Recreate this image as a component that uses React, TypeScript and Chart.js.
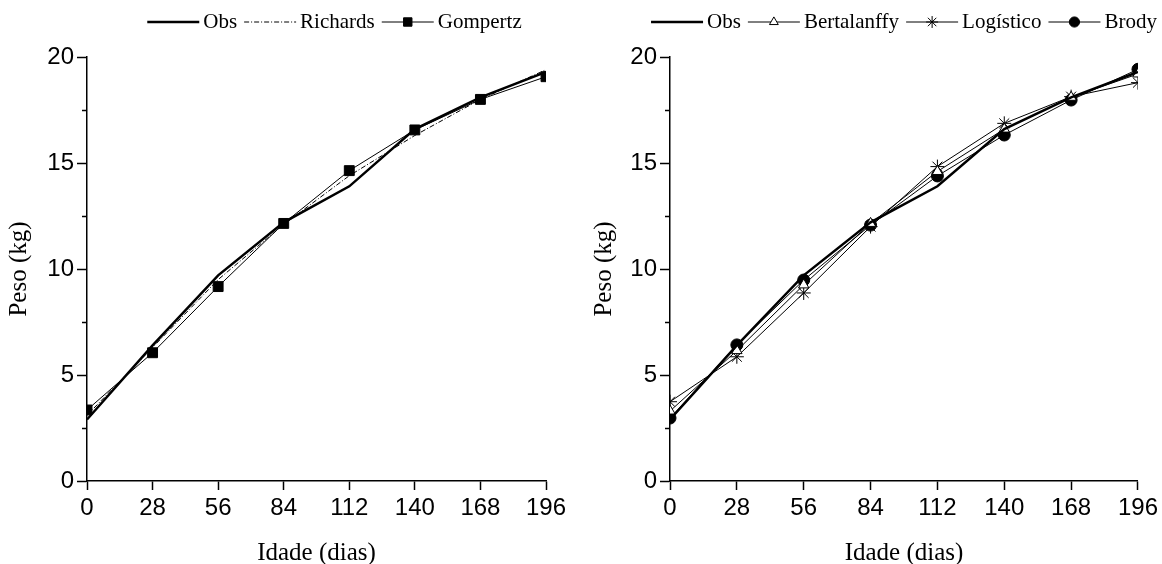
import React, { useEffect, useRef } from 'react';
import { Chart, registerables } from 'chart.js';
import { drawPoint } from 'chart.js/helpers';

Chart.register(...registerables);

// ---- data ----
const ages = [0, 28, 56, 84, 112, 140, 168, 196];
const obs = [2.9, 6.4, 9.7, 12.2, 13.9, 16.6, 18.1, 19.3];
const richards = [3.1, 6.3, 9.5, 12.1, 14.4, 16.3, 18.0, 19.4];
const gompertz = [3.35, 6.05, 9.17, 12.15, 14.64, 16.56, 18.0, 19.07];
const bertalanffy = [3.3, 6.15, 9.25, 12.15, 14.6, 16.6, 18.1, 19.2];
const logistico = [3.74, 5.86, 8.87, 12.0, 14.83, 16.87, 18.13, 18.79];
const brody = [2.97, 6.42, 9.48, 12.07, 14.39, 16.32, 17.97, 19.42];

const xTitle = 'Idade (dias)';
const yTitle = 'Peso (kg)';

const toXY = (vals: number[]) => vals.map((v, i) => ({ x: ages[i], y: v }));

const SANS = '"Liberation Sans", Arial, sans-serif';
const SERIF = '"Liberation Serif", "Times New Roman", serif';

const lineLegend = {
  id: 'lineLegend',
  afterDraw(chart: any, _args: any, opts: any) {
    const ctx = chart.ctx as CanvasRenderingContext2D;
    const ds = chart.data.datasets as any[];
    ctx.save();
    ctx.font = `${opts.fontSize}px ${SERIF}`;
    const L = opts.lineLength;
    const g1 = 4;
    const g2 = 7;
    const widths = ds.map((d) => ctx.measureText(d.label).width);
    const total = widths.reduce((a, w) => a + L + g1 + w + g2, 0) - g2;
    const ca = chart.chartArea;
    let x = (ca.left + ca.right) / 2 + opts.offsetX - total / 2;
    const y = opts.y;
    ds.forEach((d, i) => {
      ctx.strokeStyle = '#000';
      ctx.lineWidth = d.borderWidth;
      ctx.setLineDash(d.borderDash || []);
      ctx.beginPath();
      ctx.moveTo(x, y);
      ctx.lineTo(x + L, y);
      ctx.stroke();
      ctx.setLineDash([]);
      if (d.pointRadius > 0) {
        ctx.fillStyle = d.pointBackgroundColor || '#000';
        ctx.strokeStyle = '#000';
        ctx.lineWidth = 1;
        drawPoint(ctx, { pointStyle: d.pointStyle, radius: d.pointRadius * 0.85, borderWidth: 1, rotation: 0 } as any, x + L / 2, y);
      }
      ctx.fillStyle = '#000';
      ctx.textBaseline = 'middle';
      ctx.textAlign = 'left';
      ctx.fillText(d.label, x + L + g1, y);
      x += L + g1 + widths[i] + g2;
    });
    ctx.restore();
  },
};

function makeConfig(datasets: any[], yWidth: number, titlePad: number, padRight: number, legendOffset: number): any {
  return {
    type: 'line',
    data: { datasets },
    plugins: [lineLegend],
    options: {
      animation: false,
      responsive: false,
      events: [],
      layout: { padding: { top: 57, right: padRight, left: 0, bottom: 0 } },
      plugins: {
        legend: { display: false },
        tooltip: { enabled: false },
        lineLegend: { y: 22, offsetX: legendOffset, fontSize: 21, lineLength: 52 },
      },
      scales: {
        x: {
          type: 'linear',
          min: 0,
          max: 196,
          afterFit: (s: any) => { s.height = 83; },
          ticks: { stepSize: 28, color: '#000', font: { family: SANS, size: 24 }, padding: 4, maxRotation: 0, autoSkip: false },
          grid: { drawOnChartArea: false, drawTicks: true, tickLength: 9, tickColor: '#000', tickWidth: 1.5 },
          border: { display: true, color: '#000', width: 1.5 },
          title: { display: true, text: xTitle, color: '#000', font: { family: SERIF, size: 25, lineHeight: 1 }, padding: { top: 0, bottom: -2 } },
        },
        y: {
          type: 'linear',
          min: 0,
          max: 20,
          afterFit: (s: any) => { s.width = yWidth; },
          ticks: {
            stepSize: 2.5,
            autoSkip: false,
            color: '#000',
            padding: 3,
            font: { family: SANS, size: 24 },
            callback: (v: any) => (Number(v) % 5 === 0 ? String(v) : ''),
          },
          grid: {
            drawOnChartArea: false,
            drawTicks: true,
            tickLength: 10,
            tickColor: '#000',
            tickWidth: 1.5,
            tickBorderDash: (c: any) => (c.tick && Number(c.tick.value) % 5 !== 0 ? [0, 5, 10, 0] : []),
          },
          border: { display: true, color: '#000', width: 1.5 },
          title: { display: true, text: yTitle, color: '#000', font: { family: SERIF, size: 25, lineHeight: 1 }, padding: { top: titlePad, bottom: 0 } },
        },
      },
    },
  };
}

const base = { borderColor: '#000', fill: false, tension: 0, clip: 0 };

function ChartCanvas({ config, left, width }: { config: any; left: number; width: number }) {
  const ref = useRef<HTMLCanvasElement | null>(null);
  useEffect(() => {
    if (!ref.current) return;
    const c = new Chart(ref.current, config);
    return () => c.destroy();
  }, []);
  return <canvas ref={ref} width={width} height={564} style={{ position: 'absolute', left, top: 0, display: 'block' }} />;
}

export default function App() {
  const leftSets = [
    { ...base, label: 'Obs', data: toXY(obs), borderWidth: 2.5, pointRadius: 0 },
    { ...base, label: 'Richards', data: toXY(richards), borderWidth: 1, borderDash: [5, 2, 1, 2], pointRadius: 0 },
    { ...base, label: 'Gompertz', data: toXY(gompertz), borderWidth: 1, pointStyle: 'rect', pointRadius: 7, pointBackgroundColor: '#000', pointBorderColor: '#000', pointBorderWidth: 1 },
  ];
  const rightSets = [
    { ...base, label: 'Obs', data: toXY(obs), borderWidth: 2.5, pointRadius: 0 },
    { ...base, label: 'Bertalanffy', data: toXY(bertalanffy), borderWidth: 1, pointStyle: 'triangle', pointRadius: 6, pointBackgroundColor: '#fff', pointBorderColor: '#000', pointBorderWidth: 1 },
    { ...base, label: 'Logístico', data: toXY(logistico), borderWidth: 1, pointStyle: 'star', pointRadius: 7, pointBackgroundColor: '#000', pointBorderColor: '#000', pointBorderWidth: 1 },
    { ...base, label: 'Brody', data: toXY(brody), borderWidth: 1, pointStyle: 'circle', pointRadius: 6, pointBackgroundColor: '#000', pointBorderColor: '#000', pointBorderWidth: 1 },
  ];
  return (
    <div style={{ position: 'absolute', left: 0, top: 0, width: 1162, height: 564, background: '#fff', overflow: 'hidden' }}>
      <ChartCanvas config={makeConfig(leftSets, 87, 7, 29, 18)} left={0} width={575} />
      <ChartCanvas config={makeConfig(rightSets, 89, 11, 20, 0)} left={581} width={581} />
    </div>
  );
}
